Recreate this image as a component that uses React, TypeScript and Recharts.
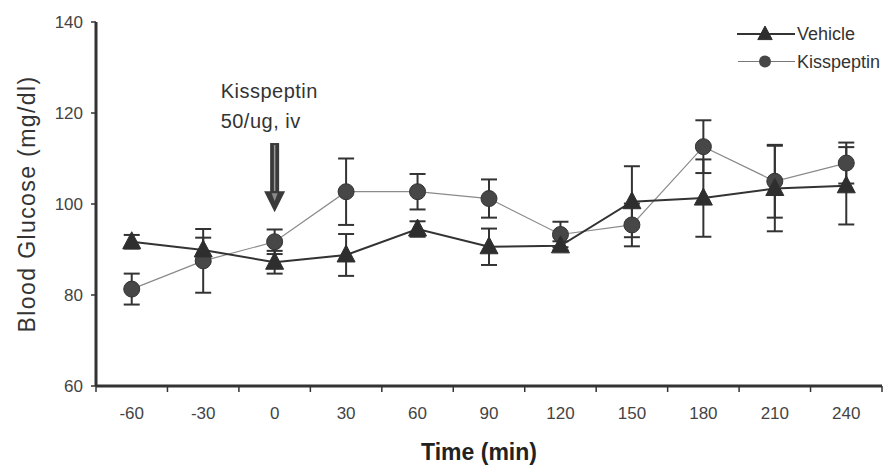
import React from 'react';
import {
    LineChart,
    Line,
    XAxis,
    YAxis,
    ErrorBar,
    ReferenceLine,
} from 'recharts';

// time points (min) and group means / SEM (mg/dl)
const times = [-60, -30, 0, 30, 60, 90, 120, 150, 180, 210, 240];
const vehicle = [91.7, 89.9, 87.2, 88.8, 94.5, 90.6, 90.8, 100.5, 101.3, 103.4, 104.0];
const vehicleSem = [1.5, 2.7, 2.5, 4.6, 1.7, 4.0, 1.0, 7.8, 8.5, 9.4, 8.5];
const kisspeptin = [81.3, 87.5, 91.7, 102.7, 102.7, 101.2, 93.3, 95.4, 112.6, 105.0, 109.0];
const kisspeptinSem = [3.4, 7.0, 2.7, 7.3, 3.9, 4.2, 2.8, 4.7, 5.8, 8.0, 4.5];

const yTicks = [60, 80, 100, 120, 140];
const injectionTime = 0;
const arrowFrom = 113.4;
const arrowTo = 98.2;

const step = times[1] - times[0];
const xDomain = [times[0] - step / 2, times[times.length - 1] + step / 2];
// label ticks at the time points, tick marks on the category borders
const borderTicks = [...times.map((t) => t - step / 2), xDomain[1]];
const xTicks = [...borderTicks, ...times].sort((a, b) => a - b);

const data = times.map((t, i) => ({
    time: t,
    vehicle: vehicle[i],
    vehicleSem: vehicleSem[i],
    kisspeptin: kisspeptin[i],
    kisspeptinSem: kisspeptinSem[i],
}));

const FONT = '"Liberation Sans", Arial, sans-serif';
const INK = '#333';

const Triangle = ({ cx, cy, s = 1 }: any) => {
    if (cx == null || cy == null) return null;
    return (
        <polygon
            points={`${cx},${cy - 10 * s} ${cx - 9 * s},${cy + 7 * s} ${cx + 9 * s},${cy + 7 * s}`}
            fill="#2e2e2e"
            stroke="#2e2e2e"
            strokeWidth={1}
        />
    );
};

const Dot = ({ cx, cy }: any) => {
    if (cx == null || cy == null) return null;
    return <circle cx={cx} cy={cy} r={8} fill="#474747" stroke="#333" strokeWidth={1} />;
};

const TimeTick = ({ x, y, payload }: any) => {
    const v = payload.value;
    if (times.includes(v)) {
        return (
            <text x={x} y={y + 33} textAnchor="middle" fontSize={17} fill="#444" fontFamily={FONT}>
                {v}
            </text>
        );
    }
    return <line x1={x} y1={y} x2={x} y2={y + 6} stroke={INK} strokeWidth={1.5} />;
};

const InjectionArrow = (props: any) => {
    const { x1, y1, y2 } = props;
    if (x1 == null) return null;
    const headH = 21;
    const top = Math.min(y1, y2);
    const tip = Math.max(y1, y2);
    const base = tip - headH;
    return (
        <g>
            <text x={x1 - 54} y={top - 45} fontSize={20} letterSpacing={0.5} fill={INK} fontFamily={FONT}>
                Kisspeptin
            </text>
            <text x={x1 - 54} y={top - 15} fontSize={20} letterSpacing={0.5} fill={INK} fontFamily={FONT}>
                50/ug, iv
            </text>
            <rect x={x1 - 4.5} y={top} width={9} height={base - top + 1} fill="#3a3a3a" />
            <line x1={x1} y1={top + 2} x2={x1} y2={base} stroke="#9a9a9a" strokeWidth={1.5} />
            <polygon
                points={`${x1 - 10.5},${base} ${x1 + 10.5},${base} ${x1},${tip}`}
                fill="#3a3a3a"
            />
            <polygon
                points={`${x1 - 3},${base + 2} ${x1 + 3},${base + 2} ${x1},${base + 10}`}
                fill="#8a8a8a"
            />
        </g>
    );
};

const LegendBox = () => (
    <svg
        width={150}
        height={60}
        style={{ position: 'absolute', left: 735, top: 14 }}
    >
        <line x1={2} y1={20} x2={60} y2={20} stroke={INK} strokeWidth={2} />
        <Triangle cx={30} cy={20} s={0.8} />
        <text x={62} y={26} fontSize={18} fill={INK} fontFamily={FONT}>
            Vehicle
        </text>
        <line x1={3} y1={47.5} x2={60} y2={47.5} stroke="#777" strokeWidth={1.2} />
        <circle cx={30} cy={47.5} r={6} fill="#474747" />
        <text x={62} y={54} fontSize={18} fill={INK} fontFamily={FONT}>
            Kisspeptin
        </text>
    </svg>
);

export default function App() {
    return (
        <div
            style={{
                position: 'absolute',
                left: 0,
                top: 0,
                width: 885,
                height: 470,
                background: '#fff',
                fontFamily: FONT,
            }}
        >
            <LineChart
                width={885}
                height={470}
                data={data}
                margin={{ top: 22, right: 3, left: 0, bottom: 0 }}
            >
                <XAxis
                    dataKey="time"
                    type="number"
                    domain={xDomain}
                    ticks={xTicks}
                    interval={0}
                    tick={<TimeTick />}
                    tickLine={false}
                    tickSize={0}
                    tickMargin={0}
                    height={84}
                    axisLine={{ stroke: INK, strokeWidth: 3 }}
                    label={{
                        value: 'Time (min)',
                        position: 'insideBottom',
                        offset: 10,
                        dx: -10,
                        style: { fontSize: 23, fontWeight: 'bold', fill: '#222', fontFamily: FONT },
                    }}
                />
                <YAxis
                    type="number"
                    domain={[60, 140]}
                    ticks={yTicks}
                    interval={0}
                    width={96}
                    tickSize={5}
                    tickMargin={8}
                    tick={{ fontSize: 17, fill: '#444', fontFamily: FONT }}
                    tickLine={{ stroke: INK, strokeWidth: 1.5 }}
                    axisLine={{ stroke: INK, strokeWidth: 3 }}
                    label={{
                        value: 'Blood Glucose  (mg/dl)',
                        angle: -90,
                        position: 'center',
                        dx: -21,
                        style: { fontSize: 23, letterSpacing: 1.4, fill: INK, fontFamily: FONT, whiteSpace: 'pre' },
                    }}
                />

                <ReferenceLine
                    segment={[
                        { x: injectionTime, y: arrowFrom },
                        { x: injectionTime, y: arrowTo },
                    ]}
                    shape={<InjectionArrow />}
                />

                <Line
                    dataKey="kisspeptin"
                    stroke="#8a8a8a"
                    strokeWidth={1.2}
                    dot={<Dot />}
                    activeDot={false}
                    isAnimationActive={false}
                >
                    <ErrorBar dataKey="kisspeptinSem" width={8} strokeWidth={2} stroke={INK} />
                </Line>
                <Line
                    dataKey="vehicle"
                    stroke={INK}
                    strokeWidth={2}
                    dot={<Triangle />}
                    activeDot={false}
                    isAnimationActive={false}
                >
                    <ErrorBar dataKey="vehicleSem" width={8} strokeWidth={2} stroke={INK} />
                </Line>
            </LineChart>
            <LegendBox />
        </div>
    );
}
